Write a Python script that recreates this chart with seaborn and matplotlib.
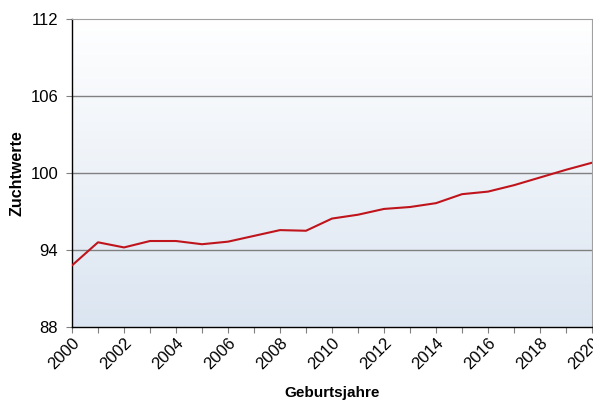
import numpy as np
import pandas as pd
import seaborn as sns
import matplotlib
matplotlib.use("Agg")
import matplotlib.pyplot as plt
from matplotlib.colors import LinearSegmentedColormap

years = list(range(2000, 2021))
zuchtwerte = [92.8, 94.6, 94.2, 94.7, 94.7, 94.45, 94.65, 95.1, 95.55, 95.5,
              96.45, 96.75, 97.2, 97.35, 97.65, 98.35, 98.55, 99.05, 99.65, 100.25, 100.8]
y_ticks = [88, 94, 100, 106, 112]
x_tick_labels = [str(y) for y in range(2000, 2021, 2)]

df = pd.DataFrame({"Geburtsjahre": years, "Zuchtwerte": zuchtwerte})

sns.set_theme(style="white")
plt.rcParams['font.family'] = ['Liberation Sans', 'DejaVu Sans']
plt.rcParams['text.color'] = 'black'
plt.rcParams['axes.labelcolor'] = 'black'
plt.rcParams['xtick.color'] = 'black'
plt.rcParams['ytick.color'] = 'black'

fig = plt.figure(figsize=(5.93, 4.03), dpi=100)
ax = fig.add_axes([72/593, 1-327/403, 520/593, 308/403])

# gradient background: white at top, light blue at bottom
cmap = LinearSegmentedColormap.from_list("bg", ["#ffffff", "#dbe5f1"])
grad = np.linspace(0, 1, 256).reshape(-1, 1)
ax.imshow(grad, aspect="auto", cmap=cmap, extent=[2000, 2020, 88, 112],
          origin="upper", zorder=0)

sns.lineplot(data=df, x="Geburtsjahre", y="Zuchtwerte", ax=ax, color="#c0141c",
             linewidth=1.5, zorder=3)

ax.set_xlim(2000, 2020)
ax.set_ylim(88, 112)
ax.set_yticks(y_ticks)
ax.set_yticklabels([str(v) for v in y_ticks], fontsize=12)
ax.set_xticks(list(range(2000, 2021, 2)))
ax.set_xticklabels(x_tick_labels, rotation=45, ha="right", rotation_mode="anchor", fontsize=12)
ax.set_xticks(years, minor=True)

for v in [94, 100, 106]:
    ax.axhline(v, color="#808080", linewidth=1.0, zorder=2)

ax.tick_params(axis="both", which="both", direction="out", length=4, width=0.8,
               color="#808080", left=True, bottom=True)
ax.tick_params(axis="x", which="minor", length=4)
ax.tick_params(axis="y", pad=6)
ax.tick_params(axis="x", pad=2)

for s in ["left", "bottom"]:
    ax.spines[s].set_color("black")
    ax.spines[s].set_linewidth(1.0)
for s in ["top", "right"]:
    ax.spines[s].set_color("#a0a0a0")
    ax.spines[s].set_linewidth(0.8)

ax.set_xlabel("Geburtsjahre", fontsize=11, fontweight="bold", labelpad=10)
ax.set_ylabel("Zuchtwerte", fontsize=11.5, fontweight="bold", labelpad=4)

fig.savefig("out.png", dpi=100)
